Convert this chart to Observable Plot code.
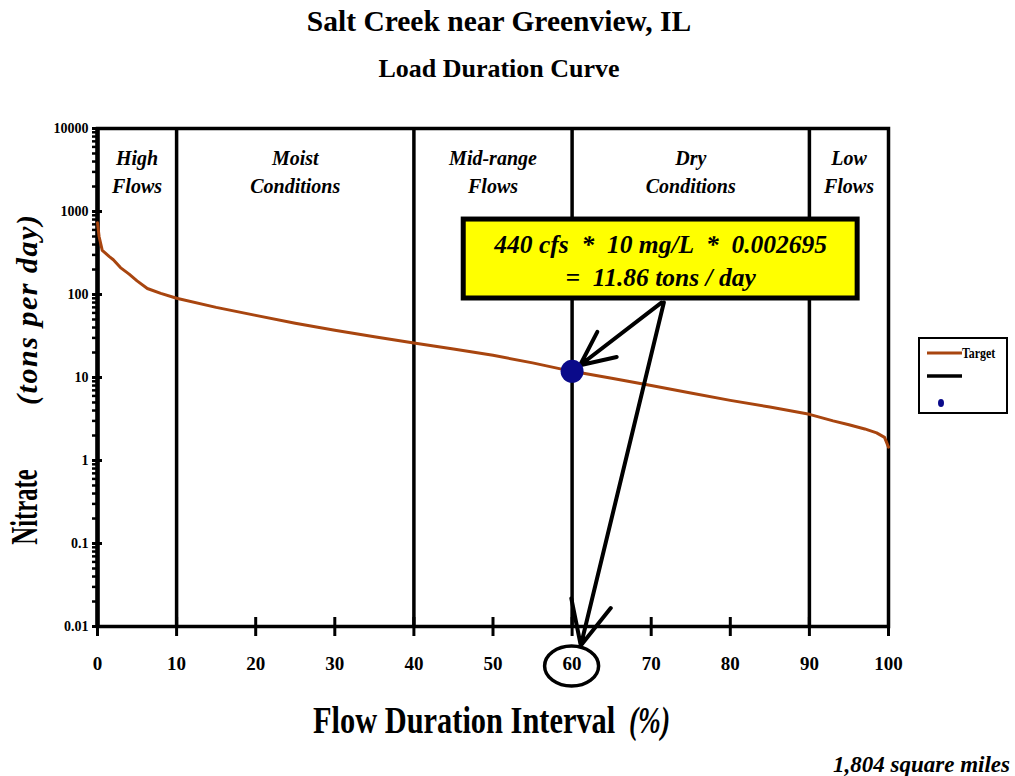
<!DOCTYPE html>
<html><head><meta charset="utf-8">
<script src="https://cdn.jsdelivr.net/npm/d3@7"></script>
<script src="https://cdn.jsdelivr.net/npm/@observablehq/plot@0.6"></script>
<style>
body{margin:0;background:#fff;}
#wrap{position:relative;width:1015px;height:776px;overflow:hidden;font-family:"Liberation Serif","Times New Roman",serif;background:#fff;}
#chart{position:absolute;left:0;top:0;}
.t{position:absolute;font-weight:bold;white-space:nowrap;color:#000;line-height:1;}
svg text{white-space:pre;}
</style></head><body>
<div id="wrap">
  <div id="chart"></div>
  <div class="t" id="title" style="left:0;width:998px;text-align:center;top:7px;font-size:29.5px;">Salt Creek near Greenview, IL</div>
  <div class="t" id="subtitle" style="left:0;width:998px;text-align:center;top:56px;font-size:26px;">Load Duration Curve</div>
  <div class="t" id="caption" style="right:5px;top:753px;font-size:23px;font-style:italic;">1,804 square miles</div>
  <div id="legend" style="position:absolute;left:918px;top:337px;width:90px;height:77px;border:2px solid #000;box-sizing:border-box;background:#fff;"></div>
</div>
<script>
// ---- data ----
const flowPct    = [0, 0.2, 0.6, 1, 1.5, 2, 2.9, 4, 5, 6.3, 8, 10, 15, 20, 25, 30, 35, 40, 45, 50, 55, 60, 65, 70, 75, 80, 85, 90, 93, 95, 97, 98.5, 99.5, 100];
const targetLoad = [730, 500, 340, 315, 286, 262, 211, 176, 146, 118, 103, 90, 70, 56, 45, 37, 31, 26, 22, 18.5, 15, 11.86, 9.8, 8, 6.5, 5.3, 4.4, 3.6, 3.0, 2.7, 2.4, 2.15, 1.9, 1.45];
const observedPct  = [60];
const observedLoad = [11.86];
const zoneBounds = [0, 10, 40, 60, 90, 100];
const zoneLabels = ["High\nFlows", "Moist\nConditions", "Mid-range\nFlows", "Dry\nConditions", "Low\nFlows"];
const xTicks = [0, 10, 20, 30, 40, 50, 60, 70, 80, 90, 100];
const yTicks = [0.01, 0.1, 1, 10, 100, 1000, 10000];
const yTickLabels = ["0.01", "0.1", "1", "10", "100", "1000", "10000"];
const calloutText = "440 cfs  *  10 mg/L  *  0.002695\n=  11.86 tons / day";
const legendLabels = ["Target", "", ""];

// ---- build ----
const curve = flowPct.map((x, i) => ({x, y: targetLoad[i]}));
const observed = observedPct.map((x, i) => ({x, y: observedLoad[i]}));
const zones = zoneLabels.map((label, i) => ({label, x: (zoneBounds[i] + zoneBounds[i + 1]) / 2}));
const innerBounds = zoneBounds.slice(1, -1);
const minorTicks = d3.scaleLog().domain([0.01, 10000]).ticks().filter(v => !yTicks.some(t => Math.abs(t - v) / t < 1e-9));
const serif = '"Liberation Serif","Times New Roman",serif';
const brown = "#a8450f";
const navy = "#0a0a8a";
const xMin = 0, yMin = 0.01;

// callout box in data units (x %, y tons/day)
const callout = {x1: 46.3, x2: 96.1, y1: 89.5, y2: 800, cx: 71.2, cy: 268};

const chart = Plot.plot({
  width: 1015, height: 776,
  marginLeft: 97, marginRight: 127, marginTop: 128, marginBottom: 150,
  style: {fontFamily: serif, fontWeight: "bold", fontSize: "14px", background: "transparent", overflow: "visible", color: "#000"},
  x: {domain: [0, 100]},
  y: {type: "log", domain: [0.01, 10000]},
  marks: [
    Plot.ruleX(innerBounds, {stroke: "#000", strokeWidth: 3.5}),
    Plot.frame({stroke: "#000", strokeWidth: 3.5}),
    Plot.ruleX([xMin], {stroke: "#000", strokeWidth: 4.5}),
    Plot.axisY({ticks: yTicks, tickFormat: d => yTickLabels[yTicks.indexOf(d)], tickSize: 0, tickPadding: 9, label: null, fontSize: 14, fontWeight: "bold"}),
    Plot.ruleY(yTicks, {x1: xMin, x2: xMin, insetLeft: -5, insetRight: -5, stroke: "#000", strokeWidth: 3}),
    Plot.ruleY(minorTicks, {x1: xMin, x2: xMin, insetLeft: -5, insetRight: 0, stroke: "#000", strokeWidth: 2.5}),
    Plot.axisX({ticks: xTicks, tickSize: 0, tickPadding: 30, label: null, fontSize: 19, fontWeight: "bold"}),
    Plot.ruleX(xTicks, {y1: yMin, y2: yMin, insetTop: -9, insetBottom: -10, stroke: "#000", strokeWidth: 3}),
    Plot.text(zones, {x: "x", text: "label", frameAnchor: "top", lineAnchor: "top", dy: 17, lineHeight: 1.4,
      fontSize: 20, fontStyle: "italic", fontWeight: "bold", fontFamily: serif}),
    Plot.line(curve, {x: "x", y: "y", stroke: brown, strokeWidth: 3}),
    Plot.rect([callout], {x1: "x1", x2: "x2", y1: "y1", y2: "y2", fill: "#ffff00", stroke: "#000", strokeWidth: 5}),
    Plot.text([callout], {x: "cx", y: "cy", text: () => calloutText, lineHeight: 1.3, fontSize: 25.5, fontStyle: "italic", fontWeight: "bold", fontFamily: serif}),
    Plot.arrow([{x1: 71.3, y1: 80, x2: observed[0].x, y2: observed[0].y}], {x1: "x1", y1: "y1", x2: "x2", y2: "y2", stroke: "#000", strokeWidth: 4, headLength: 18, headAngle: 50, insetEnd: 10}),
    Plot.arrow([{x1: 71.6, y1: 80, x2: 61.1, y2: 0.0059}], {x1: "x1", y1: "y1", x2: "x2", y2: "y2", stroke: "#000", strokeWidth: 4, headLength: 18, headAngle: 50}),
    Plot.dot(observed, {x: "x", y: "y", r: 11.5, fill: navy})
  ]
});
document.getElementById("chart").appendChild(chart);

const svg = d3.select(chart);
const sx = chart.scale("x");

// ellipse around the 60 tick label
svg.append("ellipse")
  .attr("cx", sx.apply(60)).attr("cy", 776 - 150 + 40)
  .attr("rx", 27).attr("ry", 20)
  .attr("fill", "none").attr("stroke", "#000").attr("stroke-width", 3.5);

// axis titles (condensed serif, via horizontal scaling)
svg.append("text").attr("transform", "translate(313,733) scale(0.8,1)").attr("text-anchor", "start")
  .attr("font-family", serif).attr("font-weight", "bold").attr("font-size", 38).attr("fill", "#000")
  .text("Flow Duration Interval");
svg.append("text").attr("transform", "translate(629,733) scale(0.72,1)").attr("text-anchor", "start")
  .attr("font-family", serif).attr("font-weight", "bold").attr("font-style", "italic").attr("font-size", 38).attr("fill", "#000")
  .text("(%)");

svg.append("text").attr("transform", "translate(37,507) rotate(-90) scale(0.65,1)").attr("text-anchor", "middle")
  .attr("font-family", serif).attr("font-weight", "bold").attr("font-size", 38).attr("fill", "#000").text("Nitrate");
svg.append("text").attr("transform", "translate(37,310) rotate(-90)").attr("text-anchor", "middle")
  .attr("font-family", serif).attr("font-weight", "bold").attr("font-style", "italic").attr("font-size", 30)
  .attr("textLength", 190).attr("lengthAdjust", "spacing").attr("fill", "#000").text("(tons per day)");

// legend
const lg = d3.select("#legend").append("svg").attr("width", 86).attr("height", 73).style("overflow", "visible");
lg.append("line").attr("x1", 7).attr("x2", 42).attr("y1", 14).attr("y2", 14).attr("stroke", brown).attr("stroke-width", 3);
lg.append("text").attr("transform", "translate(42,19) scale(0.85,1)").text(legendLabels[0]).attr("font-family", serif).attr("font-weight", "bold").attr("font-size", 14);
lg.append("line").attr("x1", 7).attr("x2", 42).attr("y1", 37).attr("y2", 37).attr("stroke", "#000").attr("stroke-width", 3.5);
lg.append("ellipse").attr("cx", 21).attr("cy", 64).attr("rx", 3).attr("ry", 4).attr("fill", navy);
</script>
</body></html>
